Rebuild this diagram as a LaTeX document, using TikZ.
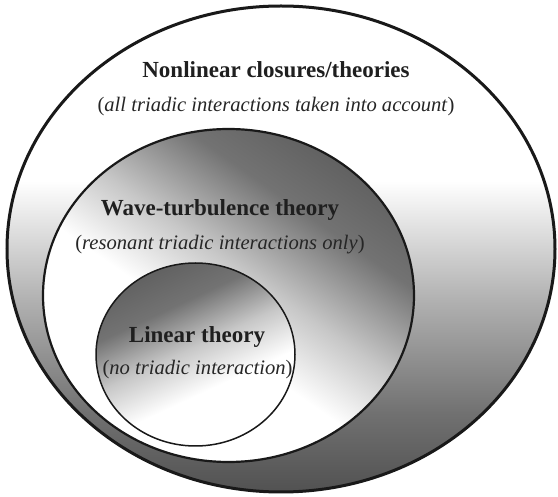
\documentclass[tikz,border=0pt]{standalone}
\usepackage{fontspec}
\setmainfont{Liberation Serif}
\pgfdeclareverticalshading{outersh}{100bp}{color(0bp)=(black!70); color(25bp)=(black!68); color(33bp)=(black!56); color(45bp)=(black!30); color(57bp)=(white); color(100bp)=(white)}
\pgfdeclareverticalshading{middlesh}{100bp}{color(0bp)=(white); color(44bp)=(white); color(54bp)=(black!22); color(66bp)=(black!55); color(75bp)=(black!62); color(100bp)=(black!62)}
\pgfdeclareverticalshading{innersh}{100bp}{color(0bp)=(white); color(40bp)=(white); color(52bp)=(black!22); color(64bp)=(black!55); color(75bp)=(black!62); color(100bp)=(black!62)}
\tikzset{
  ttl/.style={font=\fontsize{23}{27}\selectfont\bfseries, text=black!88, inner sep=0pt},
  sub/.style={font=\fontsize{20.6}{24}\selectfont, text=black!85, inner sep=0pt},
  region/.style={draw=black!90, ellipse}
}
\usetikzlibrary{shapes.geometric}
\begin{document}
\begin{tikzpicture}[x=1pt,y=-1pt]
\useasboundingbox (0,0) rectangle (558,497);
\fill[white] (0,0) rectangle (558,497);
% outer
\path[shading=outersh, draw=black!90, line width=3pt] (281,249) ellipse [x radius=274, y radius=243];
\path[shading=middlesh, shading angle=-35, draw=black!90, line width=2.2pt] (228.5,295.5) ellipse [x radius=185.5, y radius=166.5];
\path[shading=innersh, shading angle=25, draw=black!90, line width=1.5pt] (195.5,354.5) ellipse [x radius=99.5, y radius=91.5];
\node[ttl, anchor=base] (t1) at (276,78) {Nonlinear closures/theories};
\node[sub, anchor=base] (s1) at (276,112) {(\textit{all triadic interactions taken into account})};
\node[ttl, anchor=base] (t2) at (220,216) {Wave-turbulence theory};
\node[sub, anchor=base] (s2) at (220,250) {(\textit{resonant triadic interactions only})};
\node[ttl, anchor=base] (t3) at (197,343) {Linear theory};
\node[sub, anchor=base] (s3) at (197.5,375) {(\textit{no triadic interaction})};
\end{tikzpicture}
\end{document}
